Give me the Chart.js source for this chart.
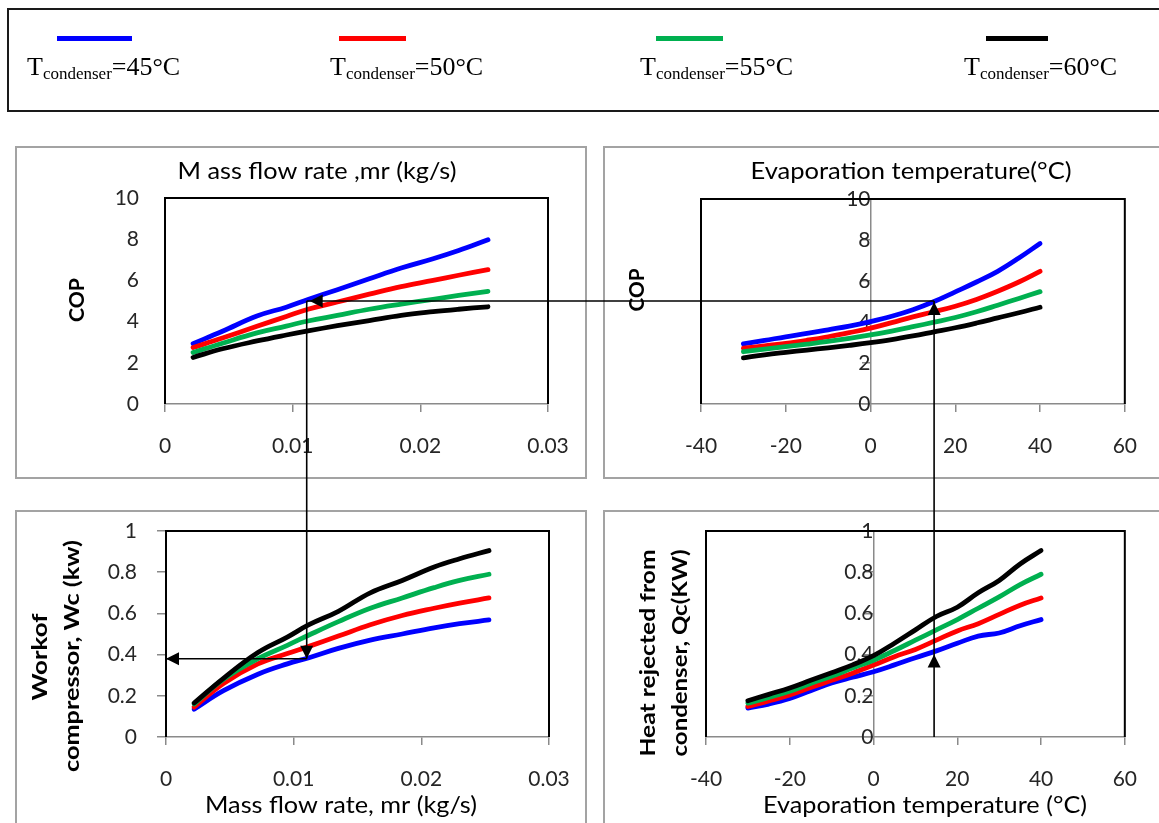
<!DOCTYPE html>
<html>
<head>
<meta charset="utf-8">
<script src="https://cdn.jsdelivr.net/npm/chart.js"></script>
<style>
html,body{margin:0;padding:0;background:#fff;}
body{width:1159px;height:823px;overflow:hidden;position:relative;}
.frame{position:absolute;border:2px solid #a3a3a3;box-sizing:border-box;}
canvas.layer{position:absolute;left:0;top:0;}
#legendBox{position:absolute;left:7px;top:8px;width:1170px;height:104px;border:2px solid #1a1a1a;box-sizing:border-box;}
.lg-line{position:absolute;height:5px;top:36px;}
.lg-text{position:absolute;top:52px;font-family:"Liberation Serif","Times New Roman",serif;font-size:26px;line-height:30px;color:#000;white-space:nowrap;}
.lg-text .sub{font-size:17px;position:relative;top:4px;}
</style>
</head>
<body>
<div id="legendBox"></div>
<div class="frame" style="left:15px;top:146px;width:572px;height:333px;"></div>
<div class="frame" style="left:603px;top:146px;width:570px;height:333px;"></div>
<div class="frame" style="left:15px;top:510px;width:572px;height:330px;"></div>
<div class="frame" style="left:603px;top:510px;width:570px;height:330px;"></div>
<canvas id="cTL" class="layer" width="1159" height="823" style="z-index:1"></canvas>
<canvas id="cTR" class="layer" width="1159" height="823" style="z-index:2"></canvas>
<canvas id="cBL" class="layer" width="1159" height="823" style="z-index:3"></canvas>
<canvas id="cBR" class="layer" width="1159" height="823" style="z-index:4"></canvas>
<canvas id="guides" class="layer" width="1159" height="823" style="z-index:5"></canvas>
<div id="legendItems" style="position:absolute;left:0;top:0;z-index:6"></div>
<script>
const W = 1159, H = 823;

// ---- series ----
const condenserTemps = [45, 50, 55, 60];
const seriesColors = ['#0000ff', '#ff0000', '#00b050', '#000000'];

// ---- left panels: mass flow rate (kg/s) ----
const massFlow = [0.0022, 0.0045, 0.0072, 0.0095, 0.0112, 0.0135, 0.016, 0.0185, 0.021, 0.023, 0.0253];
const copMf45 = [2.93, 3.53, 4.27, 4.7, 5.07, 5.55, 6.08, 6.6, 7.05, 7.45, 7.97];
const copMf50 = [2.74, 3.2, 3.77, 4.25, 4.6, 4.95, 5.33, 5.7, 6.0, 6.25, 6.52];
const copMf55 = [2.5, 2.95, 3.45, 3.78, 4.03, 4.3, 4.6, 4.85, 5.08, 5.27, 5.47];
const copMf60 = [2.26, 2.68, 3.06, 3.35, 3.55, 3.8, 4.05, 4.3, 4.48, 4.6, 4.72];
const workMf45 = [0.135, 0.225, 0.305, 0.355, 0.385, 0.43, 0.47, 0.5, 0.53, 0.55, 0.568];
const workMf50 = [0.145, 0.26, 0.355, 0.405, 0.44, 0.49, 0.545, 0.59, 0.625, 0.65, 0.675];
const workMf55 = [0.16, 0.28, 0.38, 0.445, 0.495, 0.56, 0.625, 0.675, 0.725, 0.76, 0.79];
const workMf60 = [0.165, 0.285, 0.41, 0.485, 0.545, 0.61, 0.7, 0.76, 0.825, 0.865, 0.905];

// ---- right panels: evaporation temperature (°C) ----
const evapTemp = [-30, -25, -20, -15, -10, -5, 0, 5, 10, 15, 20, 25, 30, 35, 40];
const copT45 = [2.93, 3.1, 3.28, 3.44, 3.62, 3.8, 4.02, 4.28, 4.6, 5.0, 5.47, 5.95, 6.47, 7.12, 7.83];
const copT50 = [2.72, 2.84, 2.96, 3.11, 3.28, 3.48, 3.7, 3.97, 4.25, 4.5, 4.77, 5.1, 5.5, 5.95, 6.47];
const copT55 = [2.55, 2.68, 2.8, 2.92, 3.05, 3.2, 3.37, 3.56, 3.77, 3.99, 4.22, 4.5, 4.82, 5.15, 5.48];
const copT60 = [2.25, 2.4, 2.52, 2.63, 2.74, 2.86, 2.99, 3.14, 3.32, 3.52, 3.72, 3.95, 4.2, 4.45, 4.72];
const heatT45 = [0.14, 0.16, 0.187, 0.225, 0.262, 0.29, 0.317, 0.35, 0.385, 0.418, 0.455, 0.49, 0.505, 0.54, 0.57];
const heatT50 = [0.148, 0.175, 0.204, 0.24, 0.275, 0.31, 0.349, 0.39, 0.425, 0.47, 0.515, 0.55, 0.595, 0.64, 0.675];
const heatT55 = [0.164, 0.192, 0.222, 0.26, 0.295, 0.335, 0.373, 0.42, 0.47, 0.52, 0.57, 0.625, 0.68, 0.74, 0.79];
const heatT60 = [0.176, 0.207, 0.238, 0.275, 0.312, 0.35, 0.395, 0.455, 0.52, 0.585, 0.63, 0.7, 0.76, 0.84, 0.905];

// ---- ticks ----
const massFlowTicks = [0, 0.01, 0.02, 0.03];
const massFlowTickLabels = ['0', '0.01', '0.02', '0.03'];
const tempTicks = [-40, -20, 0, 20, 40, 60];
const tempTickLabels = ['-40', '-20', '0', '20', '40', '60'];
const copTicks = [0, 2, 4, 6, 8, 10];
const copTickLabels = ['0', '2', '4', '6', '8', '10'];
const powerTicks = [0, 0.2, 0.4, 0.6, 0.8, 1];
const powerTickLabels = ['0', '0.2', '0.4', '0.6', '0.8', '1'];

// ---- guide (arrow) reading values ----
const guideMassFlow = 0.0111, guideCop = 5, guideTemp = 15, guideWork = 0.38, guideHeat = 0.40;

const tickFont = {family: 'Lato', size: 21};
const axisGray = '#8a8a8a';

function makePanel(canvasId, p) {
  const textPlugin = {
    id: 'panelText',
    afterDraw(chart) {
      const ctx = chart.ctx;
      p.texts.forEach(t => {
        ctx.save();
        ctx.font = t.font;
        ctx.fillStyle = '#000';
        ctx.textAlign = 'center';
        ctx.textBaseline = 'middle';
        ctx.translate(t.x, t.y);
        if (t.rot) ctx.rotate(-Math.PI / 2);
        const w = ctx.measureText(t.text).width;
        ctx.scale(t.len / w, 1);
        ctx.fillText(t.text, 0, 0);
        ctx.restore();
      });
    }
  };
  const borderPlugin = {
    id: 'plotBorder',
    afterDraw(chart) {
      const {left, top, right, bottom} = chart.chartArea;
      const ctx = chart.ctx;
      ctx.save();
      ctx.strokeStyle = '#000';
      ctx.lineWidth = 2;
      ctx.beginPath();
      ctx.moveTo(left, bottom);
      ctx.lineTo(left, top);
      ctx.lineTo(right, top);
      ctx.lineTo(right, bottom);
      ctx.stroke();
      ctx.restore();
    }
  };
  const yAtZero = p.yAtZero;
  return new Chart(document.getElementById(canvasId), {
    type: 'line',
    data: {
      datasets: p.series.map((vals, i) => ({
        label: 'Tcondenser=' + condenserTemps[i] + '°C',
        data: p.x.map((xv, j) => ({x: xv, y: vals[j]})),
        borderColor: seriesColors[i],
        backgroundColor: seriesColors[i],
        borderWidth: 4.8,
        pointRadius: 0,
        pointHoverRadius: 0,
        tension: 0.4,
        fill: false,
        order: 3 - i,
        borderCapStyle: 'round',
        borderJoinStyle: 'round'
      }))
    },
    options: {
      responsive: false,
      animation: false,
      devicePixelRatio: 1,
      events: [],
      layout: {padding: {left: yAtZero ? p.area.left : 0, top: p.area.top, right: W - p.area.right, bottom: 0}},
      plugins: {legend: {display: false}, tooltip: {enabled: false}, title: {display: false}},
      scales: {
        x: {
          type: 'linear', position: 'bottom', min: p.xTicks[0], max: p.xTicks[p.xTicks.length - 1],
          afterBuildTicks: s => { s.ticks = p.xTicks.map(v => ({value: v})); },
          afterFit: s => { s.height = H - p.area.bottom; },
          grid: {drawOnChartArea: false, drawTicks: true, tickLength: 8, color: axisGray, lineWidth: 1.5},
          border: {display: true, color: axisGray, width: 1.5},
          ticks: {autoSkip: false, maxRotation: 0, padding: 22, color: '#262626', font: tickFont,
                  callback: (v, i) => p.xLabels[i]}
        },
        y: {
          type: 'linear', position: yAtZero ? {x: 0} : 'left',
          min: p.yTicks[0], max: p.yTicks[p.yTicks.length - 1],
          afterBuildTicks: s => { s.ticks = p.yTicks.map(v => ({value: v})); },
          afterFit: s => { if (!yAtZero) s.width = p.area.left; },
          grid: {drawOnChartArea: false, drawTicks: p.yTickLen > 0, tickLength: p.yTickLen || 0, color: axisGray, lineWidth: 1.5},
          border: {display: !!yAtZero, color: axisGray, width: 1.5},
          ticks: {autoSkip: false, padding: p.yPad, color: '#262626', font: tickFont,
                  callback: (v, i) => p.yLabels[i]}
        }
      }
    },
    plugins: [borderPlugin, textPlugin]
  });
}

const charts = {};
charts.tl = makePanel('cTL', {
  area: {left: 165, right: 548, top: 198, bottom: 404},
  x: massFlow, series: [copMf45, copMf50, copMf55, copMf60],
  xTicks: massFlowTicks, xLabels: massFlowTickLabels,
  yTicks: copTicks, yLabels: copTickLabels, yTickLen: 0, yPad: 26,
  texts: [
    {text: 'M ass flow rate ,mr (kg/s)', x: 317, y: 172, len: 279, font: '23px Lato'},
    {text: 'COP', x: 77, y: 300, len: 44, rot: true, font: 'bold 21px Lato'}
  ]
});
charts.tr = makePanel('cTR', {
  area: {left: 701, right: 1141, top: 199, bottom: 404},
  yAtZero: true,
  x: evapTemp, series: [copT45, copT50, copT55, copT60],
  xTicks: tempTicks, xLabels: tempTickLabels,
  yTicks: copTicks, yLabels: copTickLabels, yTickLen: 8, yPad: 16,
  texts: [
    {text: 'Evaporation temperature(°C)', x: 911, y: 172, len: 321, font: '23px Lato'},
    {text: 'COP', x: 637, y: 290, len: 43, rot: true, font: 'bold 21px Lato'}
  ]
});
charts.bl = makePanel('cBL', {
  area: {left: 166, right: 549, top: 531, bottom: 737},
  x: massFlow, series: [workMf45, workMf50, workMf55, workMf60],
  xTicks: massFlowTicks, xLabels: massFlowTickLabels,
  yTicks: powerTicks, yLabels: powerTickLabels, yTickLen: 9, yPad: 20,
  texts: [
    {text: 'Mass flow rate, mr (kg/s)', x: 341, y: 806, len: 272, font: '23px Lato'},
    {text: 'Workof', x: 40, y: 657, len: 87, rot: true, font: 'bold 21px Lato'},
    {text: 'compressor, Wc (kw)', x: 72, y: 656, len: 232, rot: true, font: 'bold 21px Lato'}
  ]
});
charts.br = makePanel('cBR', {
  area: {left: 706, right: 1147, top: 531, bottom: 737},
  yAtZero: true,
  x: evapTemp, series: [heatT45, heatT50, heatT55, heatT60],
  xTicks: tempTicks, xLabels: tempTickLabels,
  yTicks: powerTicks, yLabels: powerTickLabels, yTickLen: 9, yPad: 19,
  texts: [
    {text: 'Evaporation temperature (°C)', x: 925, y: 806, len: 324, font: '23px Lato'},
    {text: 'Heat rejected from', x: 648, y: 653, len: 207, rot: true, font: 'bold 21px Lato'},
    {text: 'condenser, Qc(KW)', x: 680, y: 653, len: 207, rot: true, font: 'bold 21px Lato'}
  ]
});

// ---- guide arrows, positioned through the charts' own scales ----
(function drawGuides() {
  const ctx = document.getElementById('guides').getContext('2d');
  const x1 = charts.tl.scales.x.getPixelForValue(guideMassFlow);
  const y1 = charts.tl.scales.y.getPixelForValue(guideCop);
  const x2 = charts.tr.scales.x.getPixelForValue(guideTemp);
  const y3 = charts.bl.scales.y.getPixelForValue(guideWork);
  const x4 = charts.bl.scales.x.getPixelForValue(0);
  const y5 = charts.br.scales.y.getPixelForValue(0);
  const yHead = charts.br.scales.y.getPixelForValue(guideHeat);
  ctx.strokeStyle = '#000';
  ctx.fillStyle = '#000';
  ctx.lineWidth = 1.6;
  function line(ax, ay, bx, by) { ctx.beginPath(); ctx.moveTo(ax, ay); ctx.lineTo(bx, by); ctx.stroke(); }
  function head(x, y, dir) {
    const L = 13, h = 6.5;
    ctx.beginPath();
    ctx.moveTo(x, y);
    if (dir === 'left') { ctx.lineTo(x + L, y - h); ctx.lineTo(x + L, y + h); }
    if (dir === 'up') { ctx.lineTo(x - h, y + L); ctx.lineTo(x + h, y + L); }
    if (dir === 'down') { ctx.lineTo(x - h, y - L); ctx.lineTo(x + h, y - L); }
    ctx.closePath();
    ctx.fill();
  }
  line(x1, y1, x2, y1);
  line(x1, y1, x1, y3);
  line(x1, y3, x4, y3);
  line(x2, y1, x2, y5);
  head(x1 + 3, y1, 'left');
  head(x1, y3, 'down');
  head(x4, y3, 'left');
  head(x2, y1 + 1, 'up');
  head(x2, yHead, 'up');
})();

// ---- legend (HTML, with subscript) ----
(function buildLegend() {
  const lineX = [[57, 132], [339, 406], [656, 723], [986, 1048]];
  const textX = [27, 330, 640, 964];
  const host = document.getElementById('legendItems');
  condenserTemps.forEach((t, i) => {
    const ln = document.createElement('div');
    ln.className = 'lg-line';
    ln.style.left = lineX[i][0] + 'px';
    ln.style.width = (lineX[i][1] - lineX[i][0]) + 'px';
    ln.style.background = seriesColors[i];
    host.appendChild(ln);
    const tx = document.createElement('div');
    tx.className = 'lg-text';
    tx.style.left = textX[i] + 'px';
    tx.innerHTML = 'T<span class="sub">condenser</span>=' + t + '°C';
    host.appendChild(tx);
  });
})();
</script>
</body>
</html>
